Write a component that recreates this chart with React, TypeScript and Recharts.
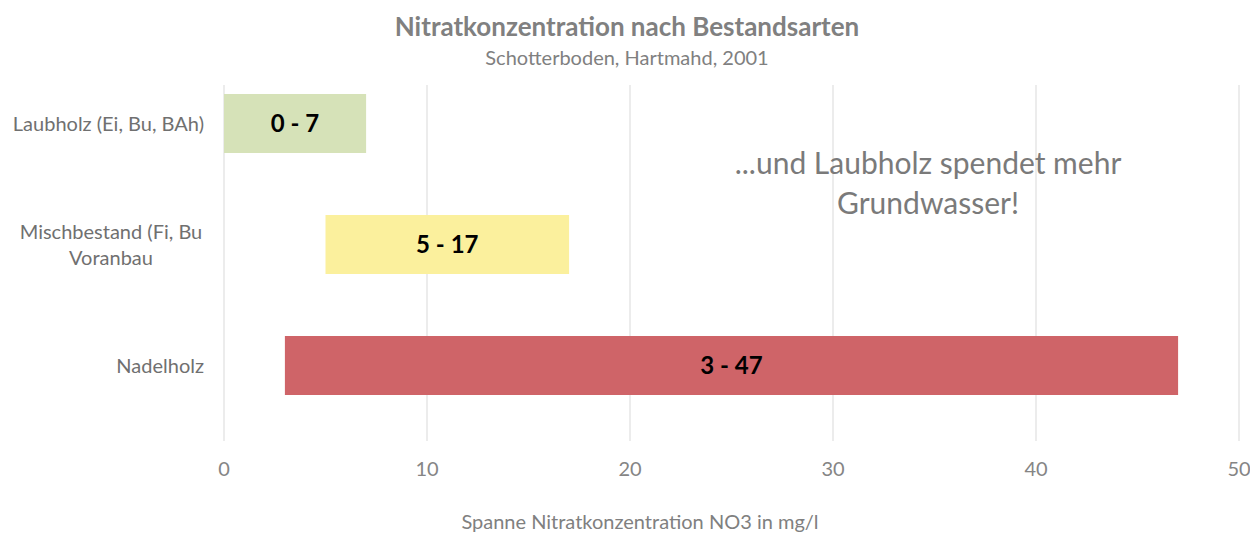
import React from "react";
import { BarChart, Bar, XAxis, YAxis, CartesianGrid, LabelList, Cell } from "recharts";

const categories = ["Laubholz (Ei, Bu, BAh)", "Mischbestand (Fi, Bu\nVoranbau", "Nadelholz"];
const lowValues = [0, 5, 3];
const highValues = [7, 17, 47];
const barColors = ["#d6e2b8", "#fbf09d", "#cf6468"];
const xTicks = [0, 10, 20, 30, 40, 50];

const title = "Nitratkonzentration nach Bestandsarten";
const subtitle = "Schotterboden, Hartmahd, 2001";
const annotation = ["...und Laubholz spendet mehr", "Grundwasser!"];
const xLabel = "Spanne Nitratkonzentration NO3 in mg/l";

const data = categories.map((name, i) => ({
  name,
  range: [lowValues[i], highValues[i]],
  label: `${lowValues[i]} - ${highValues[i]}`,
}));

const FONT = "Lato, 'Open Sans', sans-serif";

const YTick = (props: any) => {
  const { x, y, payload } = props;
  const lines = String(payload.value).split("\n");
  const maxLen = Math.max(...lines.map((l) => l.length));
  const w = maxLen * 9.3;
  const cx = x - w / 2;
  const lh = 26;
  const start = y - ((lines.length - 1) * lh) / 2;
  return (
    <g>
      {lines.map((l, i) => (
        <text
          key={i}
          x={lines.length > 1 ? cx : x}
          y={start + i * lh}
          dy="0.35em"
          textAnchor={lines.length > 1 ? "middle" : "end"}
          fill="#707070"
          fontSize={20}
          fontFamily={FONT}
        >
          {l}
        </text>
      ))}
    </g>
  );
};

export default function App() {
  return (
    <div style={{ position: "absolute", left: 0, top: 0, width: 1250, height: 534, background: "#fff", fontFamily: FONT }}>
      <BarChart
        width={1250}
        height={534}
        data={data}
        layout="vertical"
        margin={{ top: 85, right: 11, bottom: 53, left: 0 }}
      >
        <CartesianGrid horizontal={false} stroke="#d9d9d9" />
        <XAxis
          type="number"
          domain={[0, 50]}
          ticks={xTicks}
          axisLine={false}
          tickLine={false}
          tickSize={0}
          tickMargin={21}
          height={40}
          tick={{ fill: "#858585", fontSize: 20, fontFamily: FONT }}
        />
        <YAxis
          type="category"
          dataKey="name"
          width={224}
          axisLine={false}
          tickLine={false}
          tickSize={0}
          tickMargin={20}
          padding={{ top: -22, bottom: 15 }}
          tick={<YTick />}
        />
        <Bar dataKey="range" barSize={59} isAnimationActive={false}>
          {data.map((d, i) => (
            <Cell key={i} fill={barColors[i]} />
          ))}
          <LabelList
            dataKey="label"
            position="center"
            fill="#000"
            fontSize={24}
            fontWeight="bold"
            fontFamily={FONT}
          />
        </Bar>
      </BarChart>
      <div style={{ position: "absolute", left: 0, width: 1254, top: 10, textAlign: "center", fontSize: 26, fontWeight: "bold", color: "#808080", lineHeight: "32px" }}>
        {title}
      </div>
      <div style={{ position: "absolute", left: 0, width: 1254, top: 44, textAlign: "center", fontSize: 20, color: "#808080", lineHeight: "26px" }}>
        {subtitle}
      </div>
      <div style={{ position: "absolute", left: 680, width: 496, top: 142, textAlign: "center", fontSize: 30, color: "#7a7a7a", lineHeight: "40px" }}>
        {annotation[0]}
        <br />
        {annotation[1]}
      </div>
      <div style={{ position: "absolute", left: 340, width: 600, top: 508, textAlign: "center", fontSize: 20, color: "#808080", lineHeight: "26px" }}>
        {xLabel}
      </div>
    </div>
  );
}
